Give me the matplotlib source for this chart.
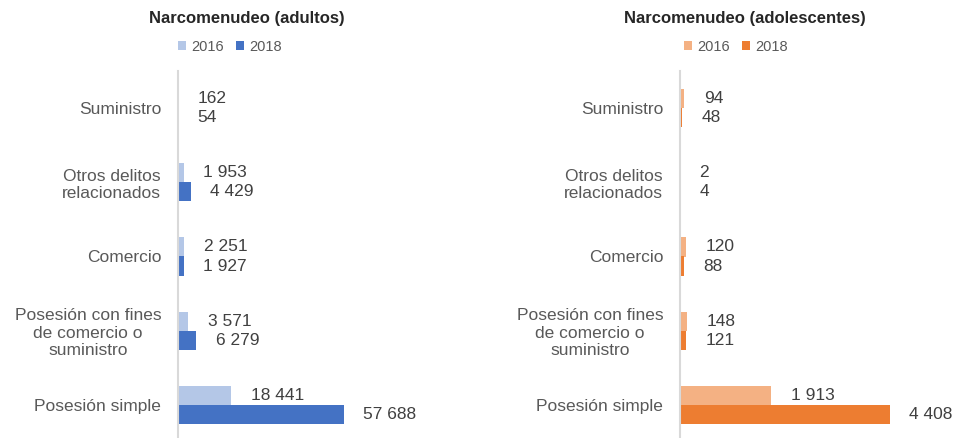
import matplotlib
matplotlib.use("Agg")
import matplotlib.pyplot as plt

plt.rcParams['font.family'] = ['Liberation Sans', 'DejaVu Sans']

categories = ["Suministro", "Otros delitos\nrelacionados", "Comercio",
              "Posesión con fines\nde comercio o\nsuministro", "Posesión simple"]
years = ["2016", "2018"]
adultos_2016 = [162, 1953, 2251, 3571, 18441]
adultos_2018 = [54, 4429, 1927, 6279, 57688]
adol_2016 = [94, 2, 120, 148, 1913]
adol_2018 = [48, 4, 88, 121, 4408]

W, H = 959, 438
fig = plt.figure(figsize=(W / 100, H / 100), dpi=100)

def fmt(v):
    return f"{v:,}".replace(",", " ")

def panel(left_px, width_px, xmax, v16, v18, c16, c18, title, title_x, leg_x):
    ax = fig.add_axes([left_px / W, -4 / H, width_px / W, 371 / H])
    h = 0.257
    ys = list(range(len(categories)))
    ax.barh([y - h / 2 for y in ys], v16, height=h, color=c16, label=years[0])
    ax.barh([y + h / 2 for y in ys], v18, height=h, color=c18, label=years[1])
    for y, a, b in zip(ys, v16, v18):
        ax.annotate(fmt(a), xy=(a, y - h / 2), xytext=(14, 0), textcoords='offset points',
                    ha='left', va='center', fontsize=12.5, color='#404040')
        ax.annotate(fmt(b), xy=(b, y + h / 2), xytext=(14, 0), textcoords='offset points',
                    ha='left', va='center', fontsize=12.5, color='#404040')
    ax.set_ylim(4.5, -0.5)
    ax.set_xlim(0, xmax)
    ax.set_yticks(ys)
    ax.set_yticklabels(categories, fontsize=12.5, color='#595959')
    for t in ax.get_yticklabels():
        t.set_multialignment('center')
    ax.tick_params(axis='y', length=0, pad=12)
    ax.set_xticks([])
    for s in ['top', 'right', 'bottom']:
        ax.spines[s].set_visible(False)
    ax.spines['left'].set_color('#D9D9D9')
    ax.spines['left'].set_linewidth(1.5)
    ax.patch.set_alpha(0)
    fig.text(title_x / W, 1 - 19 / H, title, ha='center', va='center',
             fontsize=12, fontweight='bold', color='#262626')
    fig.legend(*ax.get_legend_handles_labels(), loc='center', bbox_to_anchor=(leg_x / W, 1 - 47 / H),
               ncol=2, frameon=False, fontsize=10.5, handlelength=0.55, handleheight=0.55,
               handletextpad=0.35, columnspacing=0.8, labelcolor='#595959')
    return ax

panel(178, 280, 57688 * 280 / 166, adultos_2016, adultos_2018, '#B4C7E7', '#4472C4',
      "Narcomenudeo (adultos)", 247, 230)
panel(680, 270, 4408 * 270 / 210, adol_2016, adol_2018, '#F4B183', '#ED7D31',
      "Narcomenudeo (adolescentes)", 745, 736)

fig.savefig("out.png", dpi=100)
